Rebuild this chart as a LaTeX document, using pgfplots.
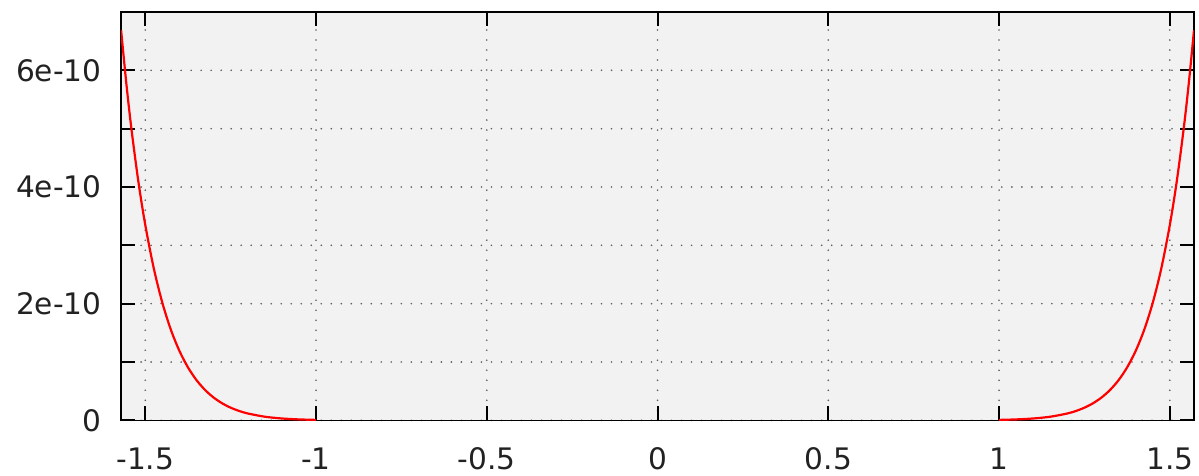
\documentclass[border=0pt]{standalone}
\usepackage{pgfplots}
\pgfplotsset{compat=1.18}
\usepackage{fontspec}
\setmainfont{DejaVu Sans}
\definecolor{bgc}{RGB}{242,242,242}
\definecolor{gridc}{RGB}{95,95,95}
\definecolor{txt}{RGB}{34,34,34}
\begin{document}
\begin{tikzpicture}
\begin{axis}[
  scale only axis,
  width=536pt, height=204pt,
  xmin=-1.5708, xmax=1.5708,
  ymin=0, ymax=7e-10,
  axis background/.style={fill=bgc},
  axis line style={line width=0.8pt},
  tick align=inside,
  major tick length=7pt, minor tick length=7pt,
  every tick/.style={black, line width=1pt},
  xtick={-1.5,-1,-0.5,0,0.5,1,1.5},
  xticklabels={-1.5,-1,-0.5,0,0.5,1,1.5},
  ytick={0,2e-10,4e-10,6e-10},
  yticklabels={0,2e-10,4e-10,6e-10},
  minor ytick={1e-10,3e-10,5e-10},
  scaled y ticks=false,
  grid=both,
  major grid style={gridc, line width=0.9pt, line cap=round, dash pattern=on 0pt off 5pt},
  minor grid style={gridc, line width=0.9pt, line cap=round, dash pattern=on 0pt off 5pt},
  tick label style={font=\fontsize{14.8}{16}\selectfont, text=txt},
  yticklabel style={xshift=-6.2pt},
  xticklabel style={yshift=-10pt},
]
\addplot[red, line width=1.1pt, smooth] coordinates {
(-1.5708,6.688e-10) (-1.555,5.748e-10) (-1.54,4.970e-10) (-1.52,4.084e-10)
(-1.50,3.349e-10) (-1.475,2.603e-10) (-1.45,2.015e-10) (-1.425,1.552e-10)
(-1.40,1.190e-10) (-1.375,9.08e-11) (-1.35,6.894e-11) (-1.325,5.21e-11)
(-1.30,3.914e-11) (-1.275,2.926e-11) (-1.25,2.173e-11) (-1.225,1.605e-11)
(-1.20,1.178e-11) (-1.15,6.22e-12) (-1.10,3.19e-12) (-1.05,1.59e-12) (-1.00,7.6e-13)
};
\addplot[red, line width=1.1pt, smooth] coordinates {
(1.00,7.6e-13) (1.05,1.59e-12) (1.10,3.19e-12) (1.15,6.22e-12) (1.20,1.178e-11)
(1.225,1.605e-11) (1.25,2.173e-11) (1.275,2.926e-11) (1.30,3.914e-11)
(1.325,5.21e-11) (1.35,6.894e-11) (1.375,9.08e-11) (1.40,1.190e-10)
(1.425,1.552e-10) (1.45,2.015e-10) (1.475,2.603e-10) (1.50,3.349e-10)
(1.52,4.084e-10) (1.54,4.970e-10) (1.555,5.748e-10) (1.5708,6.688e-10)
};
\end{axis}
\pgfresetboundingbox
\path (-60.5pt,-27.5pt) rectangle (538.5pt,210pt);
\end{tikzpicture}
\end{document}
